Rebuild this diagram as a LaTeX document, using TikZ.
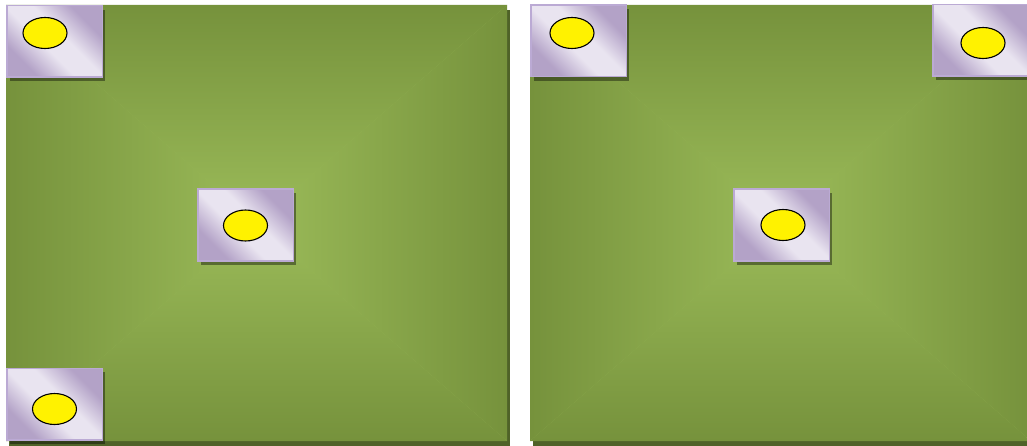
\documentclass[tikz,border=0pt]{standalone}
\usetikzlibrary{shapes.geometric,shadows}
\definecolor{FieldEdge}{HTML}{76923C}
\definecolor{FieldMid}{HTML}{9BBB59}
\definecolor{FieldShadow}{HTML}{4F6228}
\definecolor{TileDark}{HTML}{B3A2C7}
\definecolor{TileLight}{HTML}{E9E4F0}
\definecolor{TileRim}{HTML}{BBAAD4}
\pgfdeclareverticalshading{tileshade}{100bp}{color(0bp)=(TileDark); color(28bp)=(TileDark); color(44bp)=(TileLight); color(56bp)=(TileLight); color(72bp)=(TileDark); color(100bp)=(TileDark)}
\begin{document}
\begin{tikzpicture}[x=1pt,y=1pt,
  tile/.style={rectangle, draw=TileRim, line width=1.5pt, minimum width=95.5pt, minimum height=71.5pt, inner sep=0pt,
    shading=tileshade, shading angle=-45,
    drop shadow={shadow xshift=3pt, shadow yshift=-4pt, fill=black, opacity=0.4}},
  spot/.style={ellipse, draw=black, line width=1.1pt, fill=yellow, minimum width=44pt, minimum height=31pt, inner sep=0pt}]
  \useasboundingbox (0,0) rectangle (1027,445);
  % two fields, lighter towards the middle
  \foreach \x in {6,530} {
    \fill[FieldShadow] (\x+3,-1) rectangle (\x+504,435);
    \fill[FieldMid] (\x,4) rectangle (\x+501,440);
    \shade[top color=FieldEdge, bottom color=FieldMid] (\x,440) -- (\x+501,440) -- (\x+250.5,222) -- cycle;
    \shade[bottom color=FieldEdge, top color=FieldMid] (\x,4) -- (\x+501,4) -- (\x+250.5,222) -- cycle;
    \shade[left color=FieldEdge, right color=FieldMid] (\x,4) -- (\x,440) -- (\x+250.5,222) -- cycle;
    \shade[right color=FieldEdge, left color=FieldMid] (\x+501,4) -- (\x+501,440) -- (\x+250.5,222) -- cycle;
  }
  % left field
  \node[tile] (leftTop) at (54.5,403.5) {};
  \node[tile] (leftMid) at (245.5,220) {};
  \node[tile] (leftBot) at (54.5,41) {};
  \node[spot] (leftTopSpot) at (45,412) {};
  \node[spot] (leftMidSpot) at (245.5,219.5) {};
  \node[spot] (leftBotSpot) at (54.5,36) {};
  % right field
  \node[tile] (rightTop) at (578.5,404) {};
  \node[tile] (rightMid) at (781.5,220) {};
  \node[tile] (rightCorner) at (980.5,404.5) {};
  \node[spot] (rightTopSpot) at (572,412) {};
  \node[spot] (rightMidSpot) at (783,220) {};
  \node[spot] (rightCornerSpot) at (983,402) {};
\end{tikzpicture}
\end{document}
